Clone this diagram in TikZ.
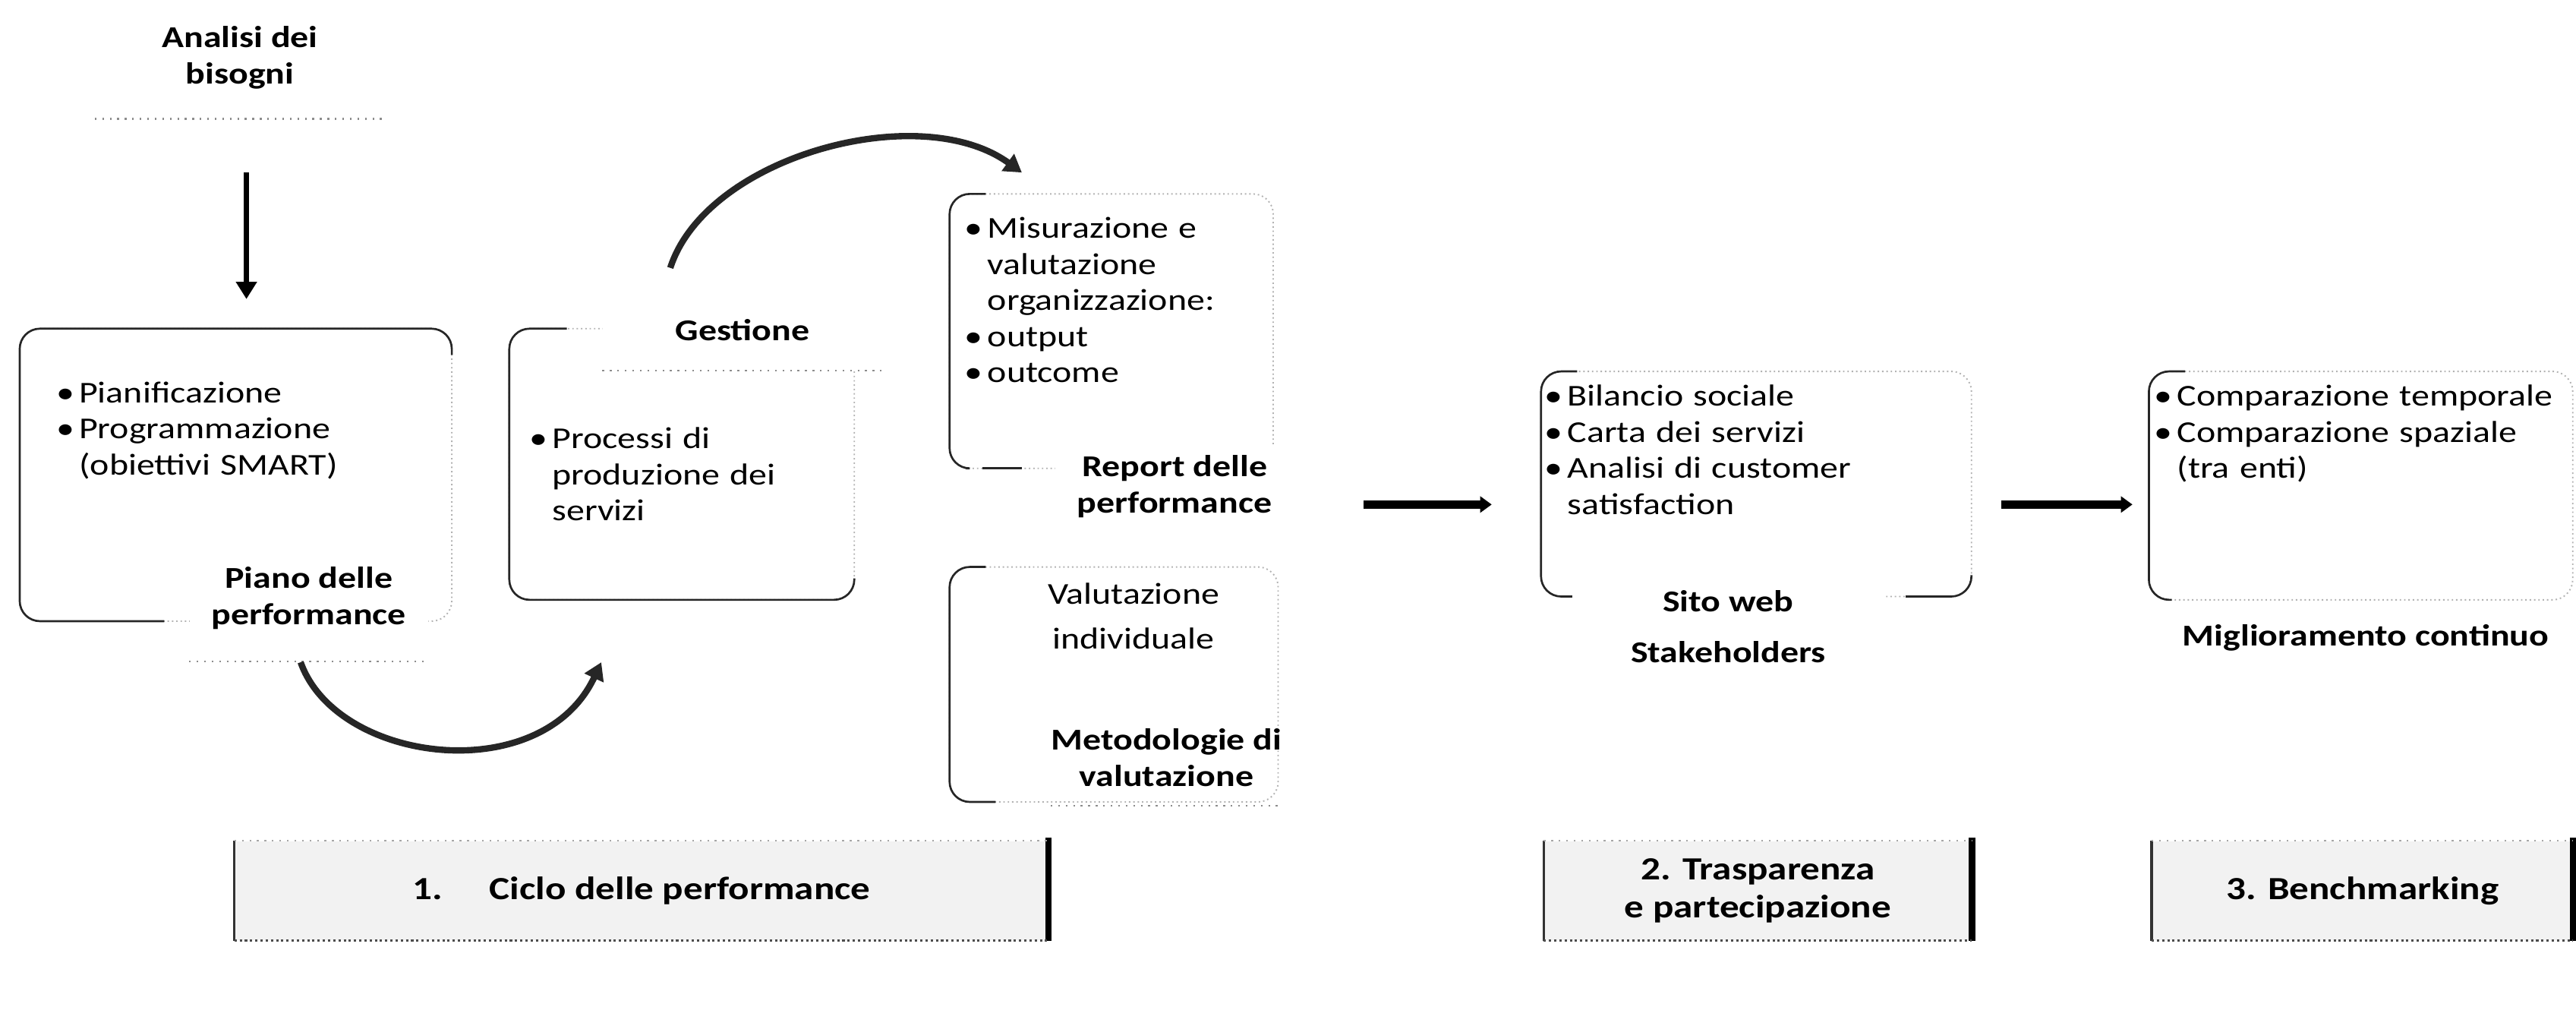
\documentclass[tikz,border=0pt]{standalone}
\usepackage{fontspec}
\setmainfont{Carlito}[FakeStretch=1.2]
\usetikzlibrary{arrows.meta}
\newcommand{\bli}[1]{\hangindent=0.75em\hangafter=1\noindent\makebox[0.75em][l]{\textbullet}#1\par}
\begin{document}
\begin{tikzpicture}[x=0.02cm,y=-0.02cm,
  every node/.style={font=\fontsize{10.5}{12.5}\selectfont, inner sep=0pt},
  lbl/.style={font=\fontsize{10.5}{12.5}\selectfont\bfseries, align=center},
  lst/.style={anchor=base west, text width=#1, align=left},
  solidedge/.style={draw=black!85, line width=0.7pt, rounded corners=7pt},
  faintedge/.style={draw=black!30, line width=0.5pt, densely dotted, rounded corners=7pt},
  faintline/.style={draw=black!45, line width=0.6pt, dotted},
  bigarrow/.style={draw=black, line width=1.8pt, -{Triangle[length=6pt,width=7pt]}},
  curvarrow/.style={draw=black!85, line width=2.2pt, -{Triangle[length=6pt,width=7pt]}},
  harrow/.style={draw=black, line width=2.8pt, -{Triangle[length=4pt,width=5.5pt]}},
  footbox/.style={fill=black!5, font=\fontsize{11.2}{13}\selectfont\bfseries, align=center}
]
\useasboundingbox (0,0) rectangle (1568,626);

% ---------- Analisi dei bisogni ----------
\node[lbl, minimum width=3.52cm, minimum height=1.48cm] (an) at (146,35) {Analisi dei\\bisogni};
\draw[faintline] (an.south west) -- (an.south east);
\coordinate (dA) at (150,105);
\coordinate (dB) at (150,182);
\draw[bigarrow] (dA) -- (dB);

% ---------- Box 1 ----------
\draw[faintedge] (12,200) rectangle (275,378);
\draw[solidedge] (275,216) -- (275,200) -- (12,200) -- (12,378) -- (100,378);
\node[lst=4.6cm] (l1) at (34,245) {\bli{Pianificazione}\bli{Programmazione\newline (obiettivi SMART)}};
\node[lbl, fill=white, minimum width=2.9cm, minimum height=1.52cm] (piano) at (188,364) {Piano delle\\performance};
\draw[faintline] (piano.south west) -- (piano.south east);

% ---------- Box 2 ----------
\draw[faintedge] (310,200) rectangle (520,365);
\draw[solidedge] (345,200) -- (310,200) -- (310,365) -- (520,365) -- (520,352);
\node[lbl, fill=white, minimum width=3.4cm, minimum height=0.96cm] (gest) at (452,201) {Gestione};
\draw[faintline] (gest.south west) -- (gest.south east);
\node[lst=3.9cm] (l2) at (322,273) {\bli{Processi di\newline produzione dei\newline servizi}};

% ---------- Box 3 ----------
\draw[faintedge] (578,118) rectangle (775,285);
\draw[solidedge] (600,118) -- (578,118) -- (578,285) -- (588,285);
\draw[draw=black!85, line width=0.7pt] (598,285) -- (622,285);
\node[lst=3.8cm] (l3) at (587,145) {\bli{Misurazione e\newline valutazione\newline organizzazione:}\bli{output}\bli{outcome}};
\node[lbl, fill=white, minimum width=2.9cm, minimum height=1.0cm] (rep) at (715,296) {Report delle\\performance};

% ---------- Box 4 ----------
\draw[faintedge] (578,345) rectangle (778,488);
\draw[solidedge] (600,345) -- (578,345) -- (578,488) -- (606,488);
\node[align=center] (vi) at (690,375) {Valutazione\\[3pt]individuale};
\node[lbl, minimum width=2.8cm, minimum height=1.16cm] (meto) at (710,461) {Metodologie di\\valutazione};
\draw[faintline] (meto.south west) -- (meto.south east);

% ---------- Box 5 ----------
\draw[faintedge] (938,226) rectangle (1200,363);
\draw[solidedge] (960,226) -- (938,226) -- (938,363) -- (962,363);
\draw[solidedge] (1160,363) -- (1200,363) -- (1200,350);
\node[lst=5cm] (l5) at (940,247) {\bli{Bilancio sociale}\bli{Carta dei servizi}\bli{Analisi di customer\newline satisfaction}};
\node[lbl, fill=white, minimum width=3.8cm, minimum height=0.6cm] (sito) at (1052,366) {Sito web};
\node[lbl] (stake) at (1052,397) {Stakeholders};

% ---------- Box 6 ----------
\draw[faintedge] (1308,226) rectangle (1566,365);
\draw[solidedge] (1330,226) -- (1308,226) -- (1308,365) -- (1322,365);
\node[lst=5.2cm] (l6) at (1311,247) {\bli{Comparazione temporale}\bli{Comparazione spaziale\newline (tra enti)}};
\node[lbl] (migl) at (1440,388) {Miglioramento continuo};

% ---------- curved arrows ----------
\coordinate (cA) at (183,403);
\coordinate (cB) at (366,403);
\draw[curvarrow] (cA) .. controls (205,465) and (330,480) .. (cB);
\coordinate (cC) at (408,163);
\coordinate (cD) at (622,105);
\draw[curvarrow] (cC) .. controls (430,95) and (560,60) .. (cD);

% ---------- horizontal arrows ----------
\coordinate (h1a) at (830,307);
\coordinate (h1b) at (908,307);
\coordinate (h2a) at (1218,307);
\coordinate (h2b) at (1298,307);
\draw[harrow] (h1a) -- (h1b);
\draw[harrow] (h2a) -- (h2b);

% ---------- bottom boxes ----------
\node[footbox, minimum width=9.9cm, minimum height=1.2cm] (f1) at (390.5,542) {1.\hspace{1.45em}Ciclo delle performance};
\node[footbox, minimum width=5.2cm, minimum height=1.2cm] (f2) at (1070,542) {2. Trasparenza\\e partecipazione};
\node[footbox, minimum width=5.12cm, minimum height=1.2cm] (f3) at (1438,542) {3. Benchmarking};
\foreach \f in {f1,f2,f3}{
  \draw[black!80, line width=0.9pt] (\f.north west) -- (\f.south west);
  \draw[black, line width=2.2pt] ([yshift=1pt]\f.north east) -- (\f.south east);
  \draw[black!70, densely dotted, line width=0.8pt] (\f.south west) -- (\f.south east);
  \draw[black!35, dotted, line width=0.6pt] (\f.north west) -- (\f.north east);
}
\end{tikzpicture}
\end{document}
